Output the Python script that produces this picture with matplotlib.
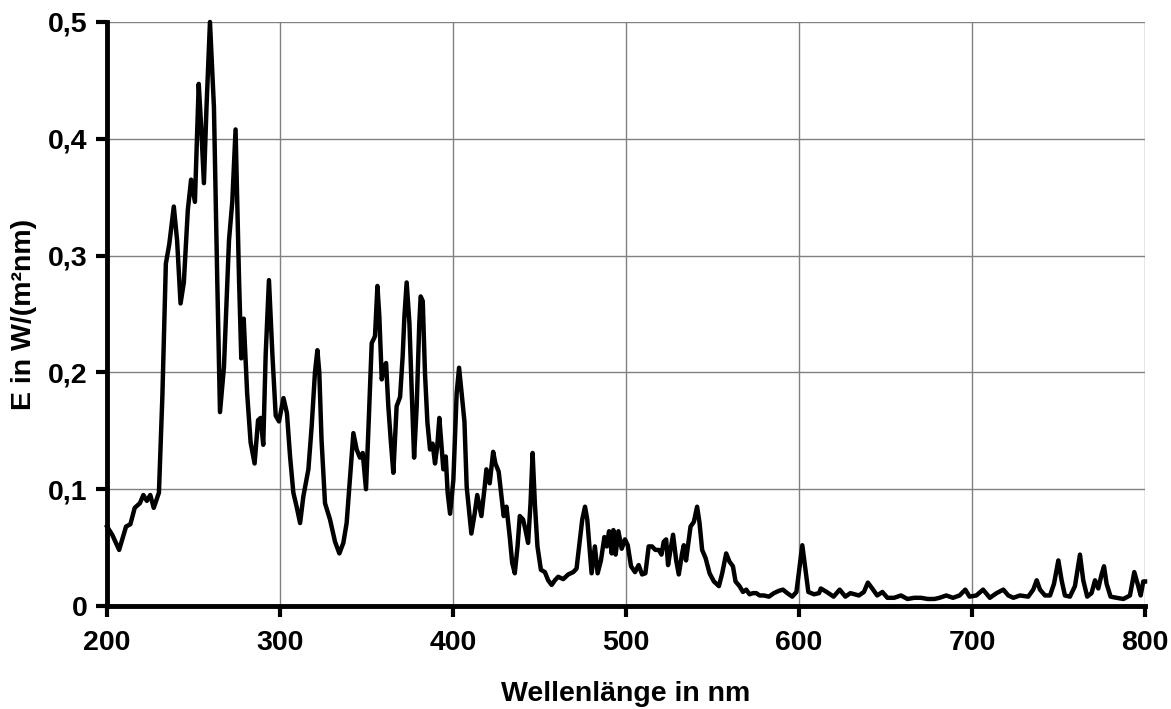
import matplotlib
matplotlib.use("Agg")
import matplotlib.pyplot as plt

# spectrum (wavelength in nm, E in W/(m^2 nm))
wavelength = [
    200, 203, 207, 211, 213.5, 216, 219, 221, 223, 225, 227, 230, 232, 234, 236,
    238.6, 240.5, 242.5, 244.4, 246.7, 248.6, 250.8, 253, 254.4, 256, 257.5,
    259.5, 261.8, 263.7, 265.3, 267.6, 270.5, 272.4, 274.3, 276.3, 277.6, 279,
    281, 283, 285.3, 287.3, 288.8, 290.3, 291.7, 293.6, 295.6, 297.5, 299.4,
    302, 304, 305.8, 307.7, 309.6, 311.6, 313.5, 316.4, 318.3, 320.2, 321.6,
    322.7, 324, 326, 328.9, 331.8, 334.3, 336.6, 338.5, 340.5, 342.4, 344.3,
    346.2, 347.8, 349.7, 351, 353, 354.9, 356.3, 357.4, 358.8, 360.1, 361.3,
    362.6, 364, 365.5, 367.4, 369.4, 370.9, 371.9, 373.2, 374.8, 376.1, 377.5,
    379, 380.5, 381.3, 382.5, 383.8, 385.2, 386.7, 388.2, 389.6, 390.9, 392.1,
    393.1, 394.4, 395.8, 396.9, 398.3, 400.2, 402.1, 403.5, 405, 406.6, 407.9,
    410.6, 412.5, 414, 416.4, 418.3, 419.3, 421.2, 423.2, 424.5, 426.4, 428,
    429.3, 430.9, 432.8, 434.2, 435.7, 437.3, 438.6, 440.5, 441.9, 443.4,
    444.8, 446, 447.3, 448.8, 450.8, 453.1, 455, 457, 458.9, 460.8, 463.7,
    466.6, 469.5, 471.4, 473.4, 474.7, 476.3, 477.6, 479.2, 480.1, 482, 483.6,
    485.5, 487.5, 488.8, 490.2, 491.7, 492.7, 494, 495.6, 497.5, 499.4, 501,
    502.9, 505.2, 507.3, 509.3, 511.2, 513.1, 515, 517, 518.9, 520.5, 521.8,
    523.2, 524.3, 525.7, 527.2, 529, 530.5, 532.4, 533.4, 534.7, 536.3, 537.3,
    539.2, 541.1, 542.5, 544, 546, 548.3, 550.8, 553.7, 555.6, 557.9, 559.8,
    561.8, 563.3, 565.6, 567.6, 569.5, 571.4, 573.4, 575.3, 577.2, 579.7,
    582.6, 585.5, 588.4, 590.7, 593.2, 596.1, 598.5, 600.4, 601.9, 603.5,
    605.4, 608.7, 611.6, 612.6, 616, 620, 623.5, 626.8, 629.7, 634.6, 637.5,
    639.8, 642.3, 645.2, 648.2, 651.1, 655, 658.9, 662.7, 666.6, 670.5, 674.4,
    678.3, 681.2, 685.1, 689, 692.8, 696.1, 698.6, 702.5, 706.4, 710.3, 714.2,
    718.1, 721, 723.9, 727.7, 732.5, 735.4, 737.4, 739.3, 742.2, 745.1, 747.4,
    749.9, 751.8, 753.7, 756.6, 759.5, 762.4, 764.3, 766.6, 769.1, 771.1, 773,
    774.9, 776.3, 777.8, 780.1, 783.6, 787.5, 791.3, 793.8, 796.1, 797.5, 799,
    800,
]
irradiance = [
    0.068, 0.061, 0.048, 0.068, 0.070, 0.084, 0.088, 0.095, 0.090, 0.095, 0.084,
    0.097, 0.180, 0.293, 0.310, 0.342, 0.313, 0.259, 0.277, 0.339, 0.365,
    0.346, 0.447, 0.411, 0.362, 0.427, 0.500, 0.427, 0.280, 0.166, 0.205,
    0.313, 0.346, 0.408, 0.280, 0.212, 0.246, 0.182, 0.140, 0.122, 0.159,
    0.161, 0.138, 0.215, 0.279, 0.215, 0.163, 0.158, 0.178, 0.165, 0.128,
    0.097, 0.085, 0.071, 0.094, 0.117, 0.154, 0.200, 0.219, 0.200, 0.142,
    0.088, 0.074, 0.055, 0.045, 0.054, 0.071, 0.111, 0.148, 0.134, 0.127,
    0.131, 0.100, 0.148, 0.225, 0.231, 0.274, 0.248, 0.194, 0.205, 0.208,
    0.171, 0.142, 0.114, 0.171, 0.179, 0.214, 0.248, 0.277, 0.242, 0.185,
    0.127, 0.171, 0.242, 0.265, 0.261, 0.199, 0.157, 0.134, 0.139, 0.122,
    0.137, 0.161, 0.142, 0.117, 0.128, 0.097, 0.079, 0.108, 0.182, 0.204,
    0.182, 0.158, 0.102, 0.062, 0.079, 0.095, 0.077, 0.102, 0.117, 0.105,
    0.132, 0.122, 0.115, 0.094, 0.077, 0.085, 0.059, 0.037, 0.028, 0.051,
    0.077, 0.074, 0.065, 0.054, 0.088, 0.131, 0.088, 0.051, 0.031, 0.029,
    0.022, 0.018, 0.022, 0.025, 0.023, 0.027, 0.029, 0.032, 0.057, 0.074,
    0.085, 0.074, 0.045, 0.028, 0.051, 0.028, 0.039, 0.059, 0.051, 0.064,
    0.045, 0.065, 0.044, 0.064, 0.049, 0.057, 0.052, 0.034, 0.029, 0.035,
    0.027, 0.028, 0.051, 0.051, 0.048, 0.048, 0.044, 0.055, 0.057, 0.035,
    0.048, 0.061, 0.039, 0.027, 0.045, 0.052, 0.039, 0.057, 0.068, 0.072,
    0.085, 0.071, 0.048, 0.041, 0.028, 0.021, 0.017, 0.028, 0.045, 0.038,
    0.034, 0.021, 0.017, 0.012, 0.014, 0.010, 0.011, 0.011, 0.009, 0.009,
    0.008, 0.011, 0.013, 0.014, 0.011, 0.008, 0.012, 0.034, 0.052, 0.034,
    0.012, 0.010, 0.011, 0.015, 0.012, 0.008, 0.014, 0.008, 0.011, 0.009,
    0.012, 0.020, 0.015, 0.009, 0.012, 0.007, 0.007, 0.009, 0.006, 0.007,
    0.007, 0.006, 0.006, 0.007, 0.009, 0.007, 0.009, 0.014, 0.008, 0.009,
    0.014, 0.007, 0.011, 0.014, 0.009, 0.007, 0.009, 0.008, 0.014, 0.022,
    0.014, 0.009, 0.009, 0.019, 0.039, 0.022, 0.009, 0.008, 0.017, 0.044,
    0.022, 0.008, 0.011, 0.022, 0.015, 0.027, 0.034, 0.019, 0.008, 0.007,
    0.006, 0.009, 0.029, 0.017, 0.009, 0.021, 0.021,
]

x_ticks = [200, 300, 400, 500, 600, 700, 800]
y_ticks = [0, 0.1, 0.2, 0.3, 0.4, 0.5]
y_tick_labels = ["0", "0,1", "0,2", "0,3", "0,4", "0,5"]

plt.rcParams['font.family'] = ['Liberation Sans', 'DejaVu Sans']
plt.rcParams['font.weight'] = 'bold'

fig = plt.figure(figsize=(11.71, 7.09), dpi=100)
ax = fig.add_axes([0.0914, 0.1453, 0.8864, 0.8237])

ax.plot(wavelength, irradiance, color='black', lw=3.2, solid_joinstyle='round',
        clip_on=False, zorder=3)

ax.set_xlim(200, 800)
ax.set_ylim(0, 0.5)
ax.set_xticks(x_ticks)
ax.set_yticks(y_ticks)
ax.set_yticklabels(y_tick_labels)

ax.grid(True, color='#808080', lw=1.0)
ax.set_axisbelow(True)

for side in ['top', 'right']:
    ax.spines[side].set_visible(False)
for side in ['left', 'bottom']:
    ax.spines[side].set_linewidth(3.5)
    ax.spines[side].set_zorder(4)

ax.tick_params(axis='both', direction='out', length=8, width=3, color='black',
               labelsize=20.5)
ax.tick_params(axis='x', pad=9)
ax.tick_params(axis='y', pad=6)

ax.set_xlabel("Wellenlänge in nm", fontsize=20.5, fontweight='bold', labelpad=18)
ax.set_ylabel("E in W/(m²nm)", fontsize=20.5, fontweight='bold', labelpad=8)

plt.savefig("out.png", dpi=100)
